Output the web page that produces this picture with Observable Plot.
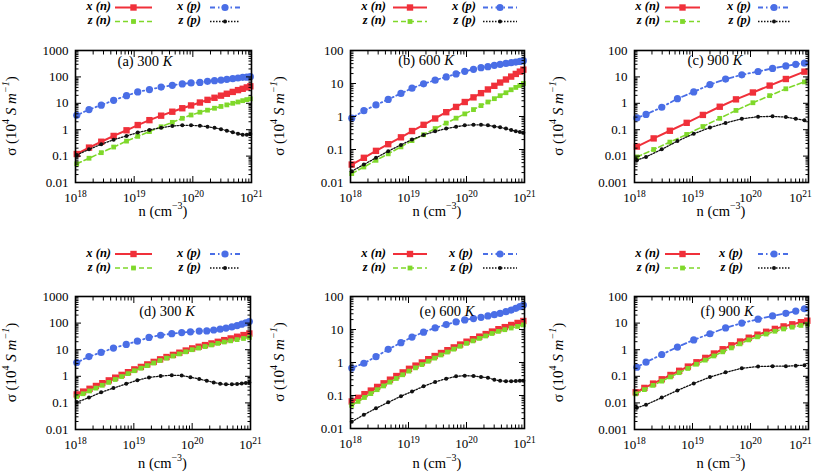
<!DOCTYPE html>
<html><head><meta charset="utf-8">
<script src="https://cdn.jsdelivr.net/npm/d3@7"></script>
<script src="https://cdn.jsdelivr.net/npm/@observablehq/plot@0.6"></script>
<style>
body{margin:0;background:#fff;}
#root{position:relative;width:813px;height:474px;overflow:hidden;background:#fff;font-family:"Liberation Serif","Times New Roman",serif;}
#root svg{position:absolute;}
#root svg, #root text, #root tspan{font-family:"Liberation Serif","Times New Roman",serif !important;}
</style></head><body><div id="root"></div>
<script>
// ---------- carrier concentration grids (cm^-3) ----------
const nGridA = [1.05e18,1.7e18,2.75e18,4.47e18,7.41e18,1.15e19,1.82e19,2.88e19,4.47e19,6.61e19,9.33e19,1.32e20,1.78e20,2.34e20,3.02e20,3.8e20,4.79e20,5.89e20,7.08e20,8.32e20,9.55e20];
const nGridD = [1.05e18,1.35e18,1.74e18,2.24e18,2.88e18,3.72e18,4.79e18,6.17e18,7.94e18,1.02e19,1.32e19,1.7e19,2.19e19,2.82e19,3.63e19,4.68e19,6.03e19,7.76e19,1.0e20,1.29e20,1.66e20,2.14e20,2.75e20,3.55e20,4.57e20,5.89e20,7.59e20,9.55e20];
const nGridF = [1.05e18,1.48e18,2.09e18,2.95e18,4.17e18,5.89e18,8.32e18,1.17e19,1.66e19,2.34e19,3.31e19,4.68e19,6.61e19,9.33e19,1.32e20,1.86e20,2.63e20,3.72e20,5.25e20,7.41e20,9.55e20];
const nGridCn = [1.1e18,2.14e18,4.07e18,7.94e18,1.51e19,2.95e19,5.62e19,1.1e20,2.14e20,4.07e20,8.51e20];
const nGridCp = [1.1e18,1.58e18,2.95e18,5.5e18,1.05e19,2.0e19,3.72e19,7.08e19,1.35e20,2.4e20,4.07e20,6.03e20,8.51e20];

// ---------- conductivity sigma (10^4 S/m) ----------
// (a) 300 K
const a_xn = [0.12,0.21,0.35,0.58,0.95,1.5,2.3,3.4,4.8,6.5,8.3,10.7,13.5,16.2,19.5,23,27,31.6,35.5,40,44];
const a_zn = [0.051,0.083,0.135,0.22,0.37,0.56,0.85,1.29,1.9,2.7,3.6,4.6,5.5,6.5,7.6,8.7,10,11.2,12.6,13.8,14.8];
const a_xp = [3.5,5.8,8.5,13,19.5,27,33,41,48,54,59,62,68,72,76,81,86,91,96,98,102];
const a_zp = [0.11,0.18,0.28,0.42,0.58,0.78,0.98,1.18,1.38,1.47,1.47,1.4,1.3,1.18,1.05,0.92,0.8,0.7,0.65,0.65,0.68];
// (b) 600 K
const b_xn = [0.035,0.056,0.091,0.145,0.234,0.363,0.56,0.87,1.35,1.95,2.75,3.8,5.1,6.6,8.5,10.7,13.2,16.2,19.5,22.9,26.3];
const b_zn = [0.0186,0.0295,0.047,0.074,0.12,0.186,0.28,0.43,0.63,0.89,1.2,1.62,2.14,2.75,3.47,4.27,5.25,6.46,7.6,8.7,10];
const b_xp = [0.89,1.5,2.24,3.3,5.0,7.2,9.8,12.6,15.8,19.5,23.4,26.9,30.2,32.4,35.5,38,40.7,42.7,44.7,46.8,49];
const b_zp = [0.022,0.035,0.056,0.089,0.138,0.2,0.275,0.355,0.43,0.49,0.54,0.56,0.56,0.54,0.5,0.47,0.43,0.39,0.36,0.34,0.32];
// (c) 900 K
const c_xn = [0.0229,0.0468,0.0912,0.182,0.363,0.741,1.41,2.57,4.68,8.32,15.8];
const c_zn = [0.0093,0.0178,0.0339,0.0661,0.132,0.269,0.537,1.05,1.95,3.55,6.46];
const c_xp = [0.28,0.38,0.71,1.5,2.7,5.1,8.3,12,16,21,26,30,33];
const c_zp = [0.007,0.0093,0.018,0.037,0.07,0.12,0.18,0.26,0.31,0.32,0.30,0.26,0.23];
// (d) 300 K
const d_xn = [0.209,0.266,0.339,0.433,0.552,0.703,0.889,1.13,1.43,1.82,2.25,2.8,3.48,4.34,5.3,6.38,7.71,9.31,11.2,12.9,14.9,17.2,19.8,22.9,26.5,30.7,35.5,40.7];
const d_zn = [0.174,0.221,0.282,0.36,0.459,0.589,0.759,0.977,1.26,1.62,2.02,2.52,3.16,3.94,4.82,5.78,6.95,8.34,10.0,11.5,13.1,15.1,17.3,19.5,21.6,23.9,26.4,29];
const d_xp = [3.3,5.5,7.9,11.5,15.8,21,29,35,40,44,47,50,51,55,59,65,72,81,91,102,115];
const d_zp = [0.107,0.158,0.25,0.36,0.52,0.71,0.91,1.02,1.1,1.07,0.93,0.79,0.68,0.59,0.52,0.5,0.5,0.51,0.54,0.56,0.59];
// (e) 600 K
const e_xn = [0.066,0.085,0.11,0.141,0.182,0.234,0.302,0.389,0.501,0.644,0.805,1.0,1.26,1.57,1.94,2.36,2.87,3.5,4.27,5.09,6.08,7.26,8.67,10.2,11.8,13.7,15.8,18.1];
const e_zn = [0.0504,0.0662,0.0871,0.114,0.15,0.195,0.254,0.328,0.425,0.548,0.689,0.865,1.09,1.36,1.69,2.07,2.54,3.1,3.8,4.52,5.37,6.37,7.57,8.77,9.86,11.1,12.4,13.8];
const e_xp = [0.68,0.95,1.5,2.5,4.0,5.9,8.3,11.2,14.1,17,19.5,21.4,23.4,25.7,28.2,31,34.7,38.9,43.7,49,55];
const e_zp = [0.016,0.026,0.041,0.062,0.095,0.132,0.19,0.257,0.324,0.38,0.4,0.39,0.363,0.347,0.3,0.28,0.27,0.27,0.275,0.28,0.28];
// (f) 900 K
const f_xn = [0.0251,0.0366,0.0532,0.0773,0.112,0.161,0.232,0.337,0.492,0.719,1.04,1.46,2.03,2.82,3.68,4.72,6.05,7.52,9.0,10.8,12.3];
const f_zn = [0.0219,0.0316,0.0456,0.0658,0.0948,0.137,0.197,0.284,0.406,0.582,0.832,1.17,1.66,2.34,3.05,3.88,4.94,6.04,7.03,8.18,9.14];
const f_xp = [0.219,0.339,0.661,1.26,2.34,3.98,6.61,10,14.1,18.6,23.4,28.2,34.7];
const f_zp = [0.0066,0.0085,0.0158,0.0295,0.0537,0.0933,0.141,0.2,0.234,0.24,0.24,0.251,0.263];

// ---------- ticks and labels ----------
const xTicks = [1e18,1e19,1e20,1e21];
const yTicks300 = [0.01,0.1,1,10,100,1000];
const yTicks600 = [0.01,0.1,1,10,100];
const yTicks900 = [0.001,0.01,0.1,1,10,100];
const seriesKeys = ["xn","zn","xp","zp"];
const seriesLabels = {xn:"x (n)", zn:"z (n)", xp:"x (p)", zp:"z (p)"};
const panelTitles = ["(a) 300 ","(b) 600 ","(c) 900 ","(d) 300 ","(e) 600 ","(f) 900 "];
const titleUnit = "K";

const styles = {
  xn:{color:"#f0303a", width:2,   dash:null,        symbol:"square", r:3.6},
  zn:{color:"#7fd82a", width:1.6, dash:"5,3",       symbol:"square", r:2.7},
  xp:{color:"#4a6ee6", width:1.8, dash:"5,3,1.5,3", symbol:"circle", r:3.6},
  zp:{color:"#111111", width:1.3, dash:"1.5,1.5",   symbol:"circle", r:2.0}
};

const FONT = "Liberation Serif, Times New Roman, serif";

const panels = [
 {left:0,   top:0,   w:270, h:234, mt:50, mr:19, mb:52, ml:75, yd:[0.01,1000], yt:yTicks300, n:{xn:nGridA,zn:nGridA,xp:nGridA,zp:nGridA}, v:{xn:a_xn,zn:a_zn,xp:a_xp,zp:a_zp}, tx:145, ty:63, ylx:13, xly:213, lg:{c1:111,s1:[115,152],c2:201,s2:[210,240],r:[7.5,21.5]}},
 {left:270, top:0,   w:270, h:234, mt:50, mr:16, mb:52, ml:80, yd:[0.01,100],  yt:yTicks600, n:{xn:nGridA,zn:nGridA,xp:nGridA,zp:nGridA}, v:{xn:b_xn,zn:b_zn,xp:b_xp,zp:b_zp}, tx:426, ty:62, ylx:281, xly:213, lg:{c1:386,s1:[393,427],c2:476,s2:[483,517],r:[7.5,21.5]}},
 {left:540, top:0,   w:273, h:234, mt:50, mr:5,  mb:52, ml:94, yd:[0.001,100], yt:yTicks900, n:{xn:nGridCn,zn:nGridCn,xp:nGridCp,zp:nGridCp}, v:{xn:c_xn,zn:c_zn,xp:c_xp,zp:c_zp}, tx:715, ty:62, ylx:560, xly:213, lg:{c1:660,s1:[665,700],c2:751,s2:[758,790],r:[7.5,21.5]}},
 {left:0,   top:234, w:270, h:240, mt:62, mr:20, mb:45, ml:75, yd:[0.01,1000], yt:yTicks300, n:{xn:nGridD,zn:nGridD,xp:nGridA,zp:nGridA}, v:{xn:d_xn,zn:d_zn,xp:d_xp,zp:d_zp}, tx:167, ty:313, ylx:13, xly:465, lg:{c1:111,s1:[115,152],c2:201,s2:[210,240],r:[254,268]}},
 {left:270, top:234, w:270, h:240, mt:62, mr:16, mb:46, ml:80, yd:[0.01,100],  yt:yTicks600, n:{xn:nGridD,zn:nGridD,xp:nGridA,zp:nGridA}, v:{xn:e_xn,zn:e_zn,xp:e_xp,zp:e_zp}, tx:447, ty:313, ylx:281, xly:465, lg:{c1:386,s1:[393,427],c2:473,s2:[483,517],r:[254,268]}},
 {left:540, top:234, w:273, h:240, mt:62, mr:5,  mb:45, ml:94, yd:[0.001,100], yt:yTicks900, n:{xn:nGridF,zn:nGridF,xp:nGridCp,zp:nGridCp}, v:{xn:f_xn,zn:f_zn,xp:f_xp,zp:f_zp}, tx:727, ty:313, ylx:560, xly:465, lg:{c1:660,s1:[665,700],c2:743,s2:[758,790],r:[254,268]}}
];

function minorTicks(lo, hi) {
  const out = [];
  for (let d = lo; d < hi * 0.999; d *= 10) for (let k = 2; k <= 9; k++) out.push(+(k * d).toPrecision(3));
  return out;
}

const root = document.getElementById("root");
const blank = () => "";

panels.forEach((p, i) => {
  const marks = [];
  for (const k of seriesKeys) {
    const s = styles[k];
    const data = p.n[k].map((n, j) => ({n, sigma: p.v[k][j]}));
    marks.push(Plot.line(data, {x:"n", y:"sigma", stroke:s.color, strokeWidth:s.width, strokeDasharray:s.dash}));
    marks.push(Plot.dot(data, {x:"n", y:"sigma", symbol:s.symbol, r:s.r, fill:s.color, stroke:"none"}));
  }
  const xMin = minorTicks(1e18, 1e21);
  const yMin = minorTicks(p.yd[0], p.yd[1]);
  marks.push(
    Plot.axisX({ticks:xTicks, anchor:"bottom", tickSize:0, tickPadding:10, label:null, fontSize:13, tickFormat:d => "10^" + Math.round(Math.log10(d))}),
    Plot.axisX({ticks:xTicks, anchor:"bottom", tickSize:-6, label:null, tickFormat:blank}),
    Plot.axisX({ticks:xTicks, anchor:"top", tickSize:-6, label:null, tickFormat:blank}),
    Plot.axisX({ticks:xMin, anchor:"bottom", tickSize:-3.5, label:null, tickFormat:blank}),
    Plot.axisX({ticks:xMin, anchor:"top", tickSize:-3.5, label:null, tickFormat:blank}),
    Plot.axisY({ticks:p.yt, anchor:"left", tickSize:0, tickPadding:7, label:null, fontSize:13, tickFormat:d => String(d)}),
    Plot.axisY({ticks:p.yt, anchor:"left", tickSize:-6, label:null, tickFormat:blank}),
    Plot.axisY({ticks:p.yt, anchor:"right", tickSize:-6, label:null, tickFormat:blank}),
    Plot.axisY({ticks:yMin, anchor:"left", tickSize:-3.5, label:null, tickFormat:blank}),
    Plot.axisY({ticks:yMin, anchor:"right", tickSize:-3.5, label:null, tickFormat:blank}),
    Plot.frame({stroke:"#000", strokeWidth:1.6})
  );
  const svg = Plot.plot({
    width:p.w, height:p.h,
    marginTop:p.mt, marginRight:p.mr, marginBottom:p.mb, marginLeft:p.ml,
    x:{type:"log", domain:[1e18,1e21], label:null},
    y:{type:"log", domain:p.yd, label:null},
    style:{fontFamily:FONT, fontSize:"13px", color:"#000", background:"transparent", overflow:"visible"},
    marks
  });
  svg.style.left = p.left + "px";
  svg.style.top = p.top + "px";
  // superscript exponents on x tick labels
  d3.select(svg).selectAll("text").each(function() {
    const t = this.textContent;
    if (t.includes("^")) {
      const [b, e] = t.split("^");
      const sel = d3.select(this);
      sel.text("");
      sel.append("tspan").text(b);
      sel.append("tspan").attr("dy", "-0.45em").attr("font-size", "9.5px").text(e);
      // keep the rightmost label inside the picture for the right-hand column
      if (p.left + p.w >= 813 && e === "21") sel.attr("dx", -8);
    }
  });
  root.appendChild(svg);
});

// ---------- overlay: titles, axis labels, legends ----------
const ov = d3.select(root).append("svg").attr("width", 813).attr("height", 474)
  .style("left", "0px").style("top", "0px").style("font-family", FONT).style("pointer-events", "none");

function symPath(s) {
  const type = s.symbol === "square" ? d3.symbolSquare : d3.symbolCircle;
  return d3.symbol(type, Math.PI * s.r * s.r)();
}

panels.forEach((p, i) => {
  const fx0 = p.left + p.ml, fx1 = p.left + p.w - p.mr;
  const fy0 = p.top + p.mt, fy1 = p.top + p.h - p.mb;
  // title
  const t = ov.append("text").attr("x", p.tx).attr("y", p.ty).attr("text-anchor", "middle")
    .attr("dominant-baseline", "middle").attr("font-size", 14.5);
  t.append("tspan").text(panelTitles[i]);
  t.append("tspan").attr("font-style", "italic").text(titleUnit);
  // x label
  const xl = ov.append("text").attr("x", (fx0 + fx1) / 2).attr("y", p.xly).attr("text-anchor", "middle")
    .attr("dominant-baseline", "middle").attr("font-size", 14.5);
  xl.append("tspan").text("n (cm");
  xl.append("tspan").attr("dy", -6).attr("font-size", 10).text("\u22123");
  xl.append("tspan").attr("dy", 6).text(")");
  // y label
  const yl = ov.append("text").attr("transform", `translate(${p.ylx},${(fy0 + fy1) / 2}) rotate(-90)`)
    .attr("text-anchor", "middle").attr("dominant-baseline", "middle").attr("font-size", 15);
  yl.append("tspan").text("\u03c3 (10");
  yl.append("tspan").attr("dy", -6).attr("font-size", 10).text("4");
  yl.append("tspan").attr("dy", 6).attr("font-style", "italic").text(" S m");
  yl.append("tspan").attr("dy", -6).attr("font-size", 10).attr("font-style", "italic").text("\u22121");
  yl.append("tspan").attr("dy", 6).text(")");
  // legend
  const L = p.lg;
  const cols = [[L.c1, L.s1, ["xn", "zn"]], [L.c2, L.s2, ["xp", "zp"]]];
  cols.forEach(([tr, sx, keys]) => {
    keys.forEach((k, r) => {
      const y = L.r[r];
      const s = styles[k];
      ov.append("text").attr("x", tr).attr("y", y).attr("text-anchor", "end").attr("dominant-baseline", "middle")
        .attr("font-size", 12.5).attr("font-weight", "bold").attr("font-style", "italic").text(seriesLabels[k]);
      ov.append("line").attr("x1", sx[0]).attr("x2", sx[1]).attr("y1", y).attr("y2", y)
        .attr("stroke", s.color).attr("stroke-width", s.width).attr("stroke-dasharray", s.dash);
      ov.append("path").attr("d", symPath(s)).attr("transform", `translate(${(sx[0] + sx[1]) / 2},${y})`).attr("fill", s.color);
    });
  });
});
</script>
</body></html>
